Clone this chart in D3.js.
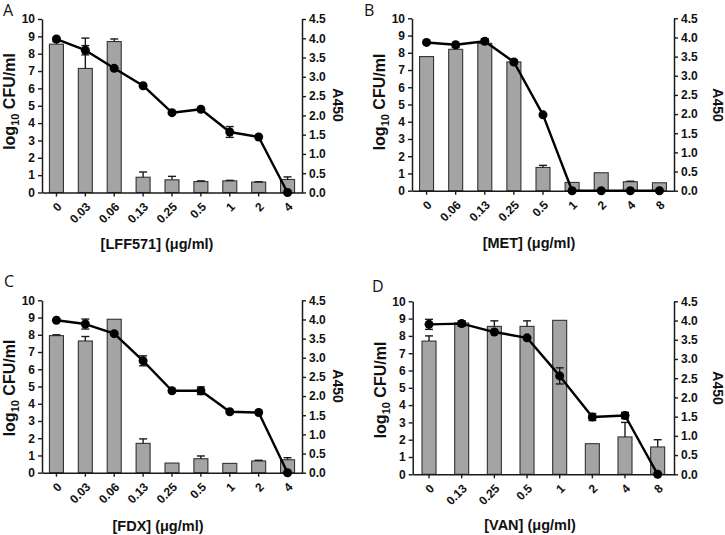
<!DOCTYPE html>
<html>
<head>
<meta charset="utf-8">
<script src="https://cdn.jsdelivr.net/npm/d3@7/dist/d3.min.js"></script>
<style>
  html, body { margin: 0; padding: 0; background: #fff; }
  svg { display: block; }
  .tick text { font-family: "Liberation Sans", Arial, sans-serif; font-weight: bold; font-size: 12px; fill: #111; }
  .xlab { font-family: "Liberation Sans", Arial, sans-serif; font-weight: bold; font-size: 12px; fill: #111; }
</style>
</head>
<body>
<svg id="chart" width="725" height="535"></svg>
<script>
// ---------------- DATA ----------------
const catsA = ["0", "0.03", "0.06", "0.13", "0.25", "0.5", "1", "2", "4"];
const cfuA = [8.55, 7.15, 8.7, 0.88, 0.73, 0.63, 0.67, 0.6, 0.75];
const cfuErrA = [0.15, 1.75, 0.15, 0.3, 0.2, 0.04, 0.03, 0.02, 0.15];
const a450A = [3.98, 3.69, 3.22, 2.77, 2.07, 2.16, 1.57, 1.44, 0.0];
const a450ErrA = [0, 0.12, 0, 0, 0, 0, 0.14, 0, 0];

const catsB = ["0", "0.06", "0.13", "0.25", "0.5", "1", "2", "4", "8"];
const cfuB = [7.78, 8.2, 8.55, 7.47, 1.35, 0.48, 1.04, 0.52, 0.46];
const cfuErrB = [0, 0.1, 0.25, 0, 0.12, 0, 0, 0.03, 0];
const a450B = [3.87, 3.81, 3.9, 3.36, 1.98, 0, 0, 0, 0];
const a450ErrB = [0, 0, 0.06, 0.05, 0, 0, 0, 0, 0];

const catsC = ["0", "0.03", "0.06", "0.13", "0.25", "0.5", "1", "2", "4"];
const cfuC = [7.95, 7.64, 8.9, 1.7, 0.56, 0.81, 0.54, 0.68, 0.75];
const cfuErrC = [0.05, 0.26, 0, 0.26, 0, 0.16, 0, 0.04, 0.12];
const a450C = [3.98, 3.88, 3.63, 2.92, 2.14, 2.14, 1.59, 1.57, 0];
const a450ErrC = [0, 0.13, 0, 0.13, 0, 0.1, 0, 0, 0];

const catsD = ["0", "0.13", "0.25", "0.5", "1", "2", "4", "8"];
const cfuD = [7.7, 8.75, 8.55, 8.55, 8.9, 1.77, 2.16, 1.58];
const cfuErrD = [0.3, 0.1, 0.32, 0.32, 0, 0, 0.84, 0.42];
const a450D = [3.9, 3.92, 3.7, 3.55, 2.56, 1.49, 1.53, 0];
const a450ErrD = [0.13, 0.07, 0, 0, 0.21, 0.09, 0.08, 0];

const letters = ["A", "B", "C", "D"];
const xTitles = ["[LFF571] (μg/ml)", "[MET] (μg/ml)", "[FDX] (μg/ml)", "[VAN] (μg/ml)"];
const leftTicks = [0, 1, 2, 3, 4, 5, 6, 7, 8, 9, 10];
const rightTicks = [0, 0.5, 1, 1.5, 2, 2.5, 3, 3.5, 4, 4.5];

// ---------------- LAYOUT ----------------
const layout = [
  { x0: 42, x1: 302, y0: 192.5, y1: 19, letter: [3, 16], ylab: [15, 101.5], rlab: [333, 105], title: [157, 249] },
  { x0: 412, x1: 674, y0: 190.7, y1: 18.3, letter: [364, 16], ylab: [385, 102], rlab: [713, 105], title: [529, 248] },
  { x0: 42, x1: 302, y0: 472.7, y1: 300.3, letter: [4, 287], ylab: [15, 388], rlab: [333, 386], title: [158, 531] },
  { x0: 412.7, x1: 674, y0: 474.3, y1: 301.3, letter: [372, 292], ylab: [386, 390], rlab: [713, 388], title: [530, 530] }
];

const panels = [
  { cats: catsA, cfu: cfuA, cfuErr: cfuErrA, a450: a450A, a450Err: a450ErrA },
  { cats: catsB, cfu: cfuB, cfuErr: cfuErrB, a450: a450B, a450Err: a450ErrB },
  { cats: catsC, cfu: cfuC, cfuErr: cfuErrC, a450: a450C, a450Err: a450ErrC },
  { cats: catsD, cfu: cfuD, cfuErr: cfuErrD, a450: a450D, a450Err: a450ErrD }
];

const svg = d3.select("#chart");
const FONT = '"Liberation Sans", Arial, Helvetica, sans-serif';
const INK = "#1a1a1a";

panels.forEach((p, i) => {
  const L = layout[i];
  const n = p.cats.length;
  const step = (L.x1 - L.x0) / n;
  const pad = 1 - 14 / step;
  const x = d3.scaleBand().domain(p.cats).range([L.x0, L.x1]).paddingInner(pad).paddingOuter(pad / 2);
  const yL = d3.scaleLinear().domain([0, 10]).range([L.y0, L.y1]);
  const yR = d3.scaleLinear().domain([0, 4.5]).range([L.y0, L.y1]);
  const cx = c => x(c) + x.bandwidth() / 2;

  const g = svg.append("g");

  // bars
  g.selectAll("rect.bar").data(p.cats).join("rect")
    .attr("class", "bar")
    .attr("x", c => x(c))
    .attr("width", x.bandwidth())
    .attr("y", (c, j) => yL(p.cfu[j]))
    .attr("height", (c, j) => yL(0) - yL(p.cfu[j]))
    .attr("fill", "#a4a4a4")
    .attr("stroke", "#333")
    .attr("stroke-width", 1.1);

  // bar error bars (upward)
  p.cats.forEach((c, j) => {
    const e = p.cfuErr[j];
    if (!e) return;
    const xc = cx(c);
    g.append("line").attr("x1", xc).attr("x2", xc)
      .attr("y1", yL(p.cfu[j])).attr("y2", yL(p.cfu[j] + e))
      .attr("stroke", INK).attr("stroke-width", 1.4);
    g.append("line").attr("x1", xc - 4).attr("x2", xc + 4)
      .attr("y1", yL(p.cfu[j] + e)).attr("y2", yL(p.cfu[j] + e))
      .attr("stroke", INK).attr("stroke-width", 1.4);
  });

  // axes
  const axL = d3.axisLeft(yL).tickValues(leftTicks).tickFormat(d3.format("d")).tickSize(4).tickSizeOuter(0);
  const axR = d3.axisRight(yR).tickValues(rightTicks).tickFormat(d3.format(".1f")).tickSize(4).tickSizeOuter(0);
  const axB = d3.axisBottom(x).tickSize(4).tickSizeOuter(0);

  const gl = g.append("g").attr("transform", `translate(${L.x0},0)`).call(axL);
  const gr = g.append("g").attr("transform", `translate(${L.x1},0)`).call(axR);
  const gb = g.append("g").attr("transform", `translate(0,${L.y0})`).call(axB);
  [gl, gr, gb].forEach(a => {
    a.select(".domain").attr("stroke", INK).attr("stroke-width", 1.5);
    a.selectAll(".tick line").attr("stroke", INK).attr("stroke-width", 1.4);
  });
  // category labels rotated -45 degrees, ending at the tick
  gb.selectAll(".tick text")
    .attr("x", 0).attr("y", 0).attr("dy", "0.35em")
    .attr("text-anchor", "end")
    .attr("transform", "translate(3,12) rotate(-45)");

  // line
  const line = d3.line().x((c) => cx(c)).y((c, j) => yR(p.a450[j]));
  g.append("path").datum(p.cats)
    .attr("d", line)
    .attr("fill", "none").attr("stroke", "#000").attr("stroke-width", 2.4)
    .attr("stroke-linejoin", "round");

  // point error bars
  p.cats.forEach((c, j) => {
    const e = p.a450Err[j];
    if (!e) return;
    const xc = cx(c);
    const v = p.a450[j];
    g.append("line").attr("x1", xc).attr("x2", xc)
      .attr("y1", yR(v - e)).attr("y2", yR(v + e))
      .attr("stroke", INK).attr("stroke-width", 1.4);
    [v - e, v + e].forEach(tt => {
      g.append("line").attr("x1", xc - 4).attr("x2", xc + 4)
        .attr("y1", yR(tt)).attr("y2", yR(tt))
        .attr("stroke", INK).attr("stroke-width", 1.4);
    });
  });

  // points
  g.selectAll("circle.pt").data(p.cats).join("circle")
    .attr("class", "pt")
    .attr("cx", c => cx(c))
    .attr("cy", (c, j) => yR(p.a450[j]))
    .attr("r", 4.5)
    .attr("fill", "#000");

  // panel letter
  g.append("text").attr("x", L.letter[0]).attr("y", L.letter[1])
    .attr("font-family", '"Open Sans", "DejaVu Sans", sans-serif')
    .attr("font-size", 16).attr("fill", "#111").text(letters[i]);

  // left y label
  const yl = g.append("text")
    .attr("transform", `translate(${L.ylab[0]},${L.ylab[1]}) rotate(-90)`)
    .attr("text-anchor", "middle")
    .attr("font-family", FONT).attr("font-weight", "bold").attr("font-size", 16).attr("fill", "#111");
  yl.append("tspan").text("log");
  yl.append("tspan").attr("font-size", 11).attr("dy", 4).text("10");
  yl.append("tspan").attr("dy", -4).text(" CFU/ml");

  // right y label
  g.append("text")
    .attr("transform", `translate(${L.rlab[0]},${L.rlab[1]}) rotate(90)`)
    .attr("text-anchor", "middle")
    .attr("font-family", FONT).attr("font-weight", "bold").attr("font-size", 14).attr("fill", "#111")
    .text("A450");

  // x title
  g.append("text").attr("x", L.title[0]).attr("y", L.title[1])
    .attr("text-anchor", "middle")
    .attr("font-family", FONT).attr("font-weight", "bold").attr("font-size", 14.5).attr("fill", "#111")
    .text(xTitles[i]);
});
</script>
</body>
</html>
